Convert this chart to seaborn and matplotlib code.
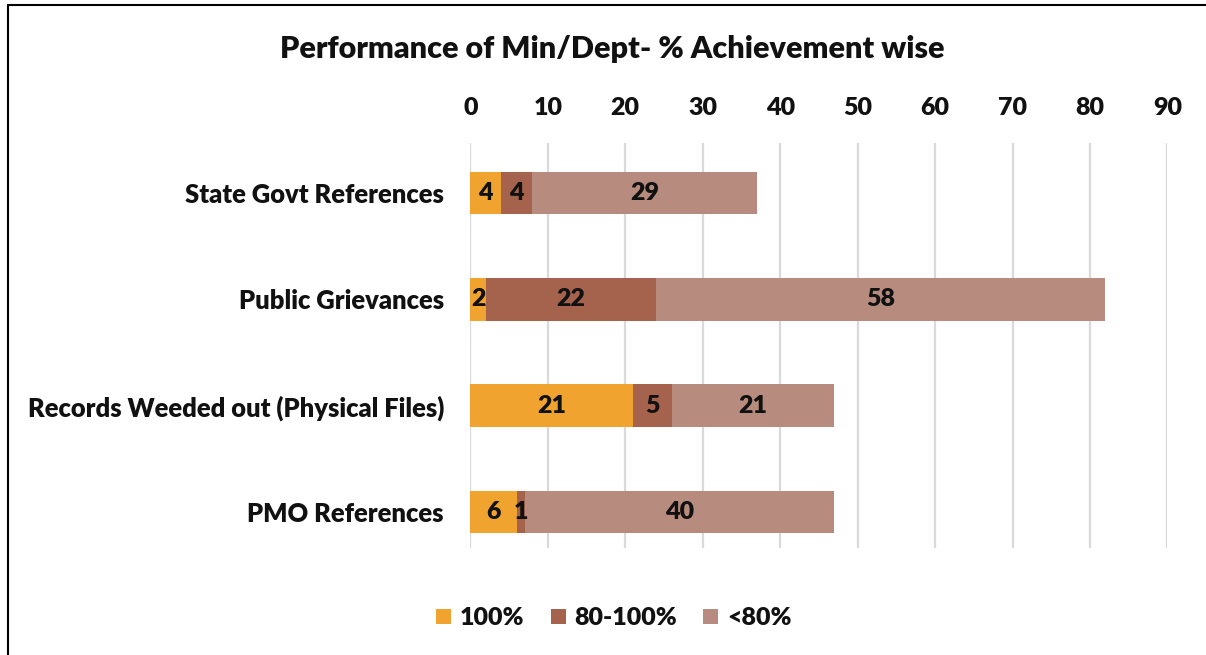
import numpy as np
import pandas as pd
import matplotlib
matplotlib.use("Agg")
import matplotlib.pyplot as plt
import seaborn as sns
from matplotlib.lines import Line2D
from matplotlib.patches import Patch

# datos
categorias = ["State Govt References", "Public Grievances",
              "Records Weeded out (Physical Files)", "PMO References"]
series = ["100%", "80-100%", "<80%"]
v_100 = [4, 2, 21, 6]
v_80_100 = [4, 22, 5, 1]
v_menos80 = [29, 58, 21, 40]
ticks_x = [0, 10, 20, 30, 40, 50, 60, 70, 80, 90]

colores = ["#F0A32F", "#A5634D", "#B78B7E"]

sns.set_style("white")
plt.rcParams["font.family"] = ["Lato", "DejaVu Sans"]

fig = plt.figure(figsize=(12.06, 6.55), dpi=100)
ax = fig.add_axes([0.39, 0.163, 0.578, 0.619])

df = pd.DataFrame({"cat": categorias, "100%": v_100,
                   "80-100%": v_80_100, "<80%": v_menos80})
acum = df[series].cumsum(axis=1)

# barras apiladas: se dibuja de la mas larga a la mas corta
for serie, color in zip(series[::-1], colores[::-1]):
    sns.barplot(x=acum[serie], y=df["cat"], orient="h", color=color,
                width=0.4, ax=ax, zorder=3, linewidth=0, saturation=1)

# etiquetas de cada segmento
for i in range(len(categorias)):
    inicio = 0
    for serie in series:
        val = df.loc[i, serie]
        ax.text(inicio + val / 2, i, str(val), ha="center", va="center",
                fontsize=18, fontweight="heavy", color="#111111", zorder=4)
        inicio += val

ax.set_xlim(0, 90)
ax.set_ylim(3.34, -0.47)
ax.set_xticks(ticks_x)
ax.xaxis.tick_top()
ax.tick_params(axis="x", length=0, pad=17, labelsize=18)
ax.tick_params(axis="y", length=0, pad=19, labelsize=18.4)
for lab in ax.get_xticklabels() + ax.get_yticklabels():
    lab.set_fontweight("heavy")
    lab.set_color("#111111")
ax.set_xlabel("")
ax.set_ylabel("")
ax.grid(axis="x", color="#D9D9D9", linewidth=1.6, zorder=0)
ax.set_axisbelow(True)
for s in ax.spines.values():
    s.set_visible(False)

fig.text(0.508, 0.925, "Performance of Min/Dept- % Achievement wise",
         ha="center", va="center", fontsize=22, fontweight="heavy",
         color="#111111")

handles = [Patch(facecolor=c, edgecolor="none") for c in colores]
leg = fig.legend(handles, series, loc="center", bbox_to_anchor=(0.509, 0.056),
                 ncol=3, frameon=False, handlelength=0.6, handleheight=0.6,
                 columnspacing=1.05, handletextpad=0.35,
                 prop={"size": 18, "weight": "heavy"})
for t in leg.get_texts():
    t.set_color("#111111")

# marco exterior (solo izquierda y arriba visibles)
fig.add_artist(Line2D([8 / 1206, 8 / 1206], [0, 1 - 5 / 655],
                      color="black", linewidth=1.5))
fig.add_artist(Line2D([8 / 1206, 1], [1 - 5 / 655, 1 - 5 / 655],
                      color="black", linewidth=1.5))

fig.savefig("out.png", dpi=100)
